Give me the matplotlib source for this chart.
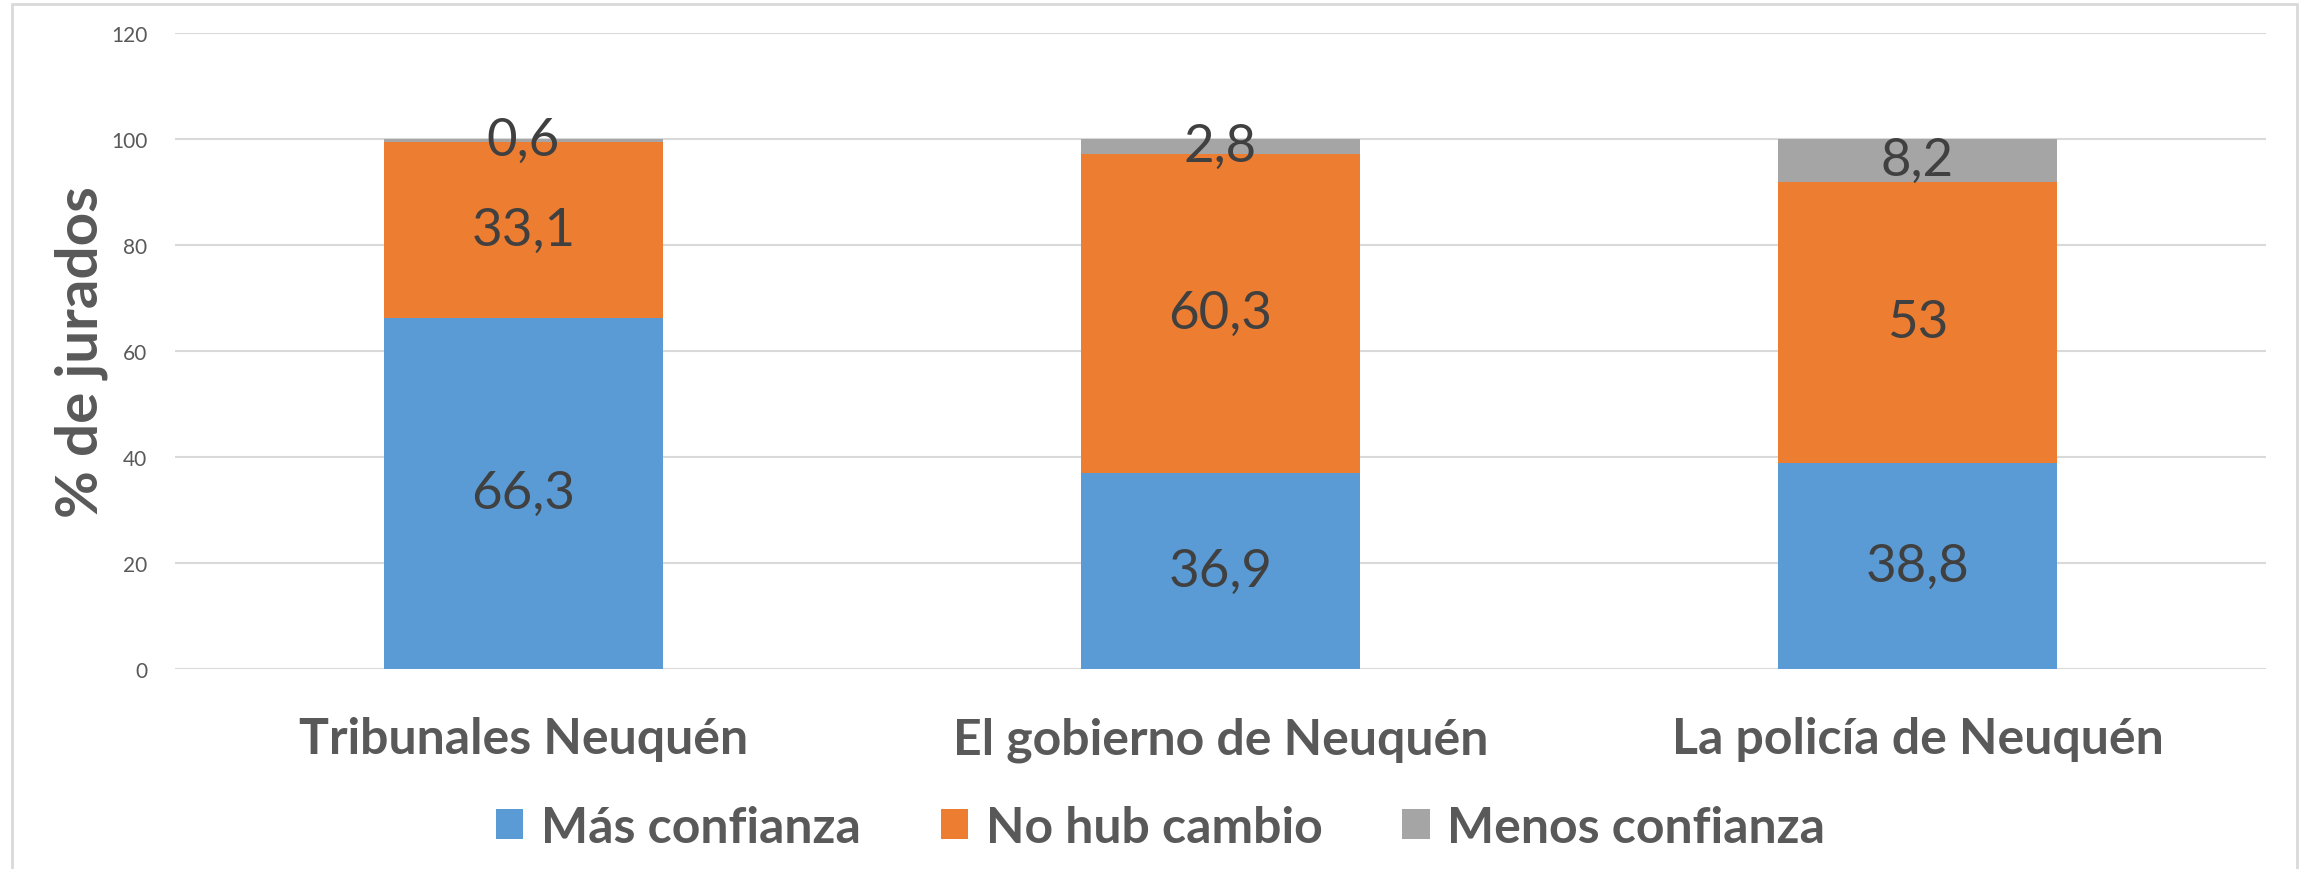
import matplotlib.pyplot as plt
import numpy as np
from matplotlib.patches import Rectangle

plt.rcParams['font.family'] = ['Lato', 'DejaVu Sans']

categories = ['Tribunales Neuquén', 'El gobierno de Neuquén', 'La policía de Neuquén']
series_names = ['Más confianza', 'No hub cambio', 'Menos confianza']
mas = [66.3, 36.9, 38.8]
no_cambio = [33.1, 60.3, 53]
menos = [0.6, 2.8, 8.2]
colors = ['#5B9BD5', '#ED7D31', '#A5A5A5']

fig = plt.figure(figsize=(23.05, 8.7), dpi=100)
ax = fig.add_axes([0.0759, 0.2299, 0.9072, 0.7310])

x = np.arange(len(categories))
bottom = np.zeros(len(categories))
for vals, name, c in zip([mas, no_cambio, menos], series_names, colors):
    ax.bar(x, vals, 0.4, bottom=bottom, color=c, label=name, zorder=2)
    for xi, v, b in zip(x, vals, bottom):
        lab = ('%g' % v).replace('.', ',')
        ax.text(xi, b + v / 2, lab, ha='center', va='center', fontsize=38,
                color='#404040', zorder=3)
    bottom = bottom + np.array(vals)

ax.set_xlim(-0.5, 2.5)
ax.set_ylim(0, 120)
ax.set_yticks(range(0, 121, 20))
ax.yaxis.grid(True, color='#D9D9D9', linewidth=1.5, zorder=0)
ax.set_axisbelow(True)
for s in ax.spines.values():
    s.set_visible(False)
ax.tick_params(axis='y', length=0, labelsize=15, labelcolor='#595959', pad=20)
ax.tick_params(axis='x', length=0, labelsize=36, labelcolor='#595959', pad=34)
ax.set_xticks(x)
ax.set_xticklabels(categories, fontweight='bold')
ax.set_ylabel('% de jurados', fontsize=42, fontweight='bold', color='#595959', labelpad=2)

leg = fig.legend(loc='center', bbox_to_anchor=(0.5035, 0.048), ncol=3, frameon=False,
                 fontsize=36, handlelength=0.55, handleheight=0.55, columnspacing=1.6,
                 handletextpad=0.35)
for t in leg.get_texts():
    t.set_color('#595959')
    t.set_fontweight('bold')

fig.patches.append(Rectangle((12 / 2305, -0.01), 2285 / 2305, 1 - 5 / 870 + 0.01,
                             transform=fig.transFigure, fill=False,
                             edgecolor='#D9D9D9', linewidth=2))

fig.savefig('out.png', dpi=100)
